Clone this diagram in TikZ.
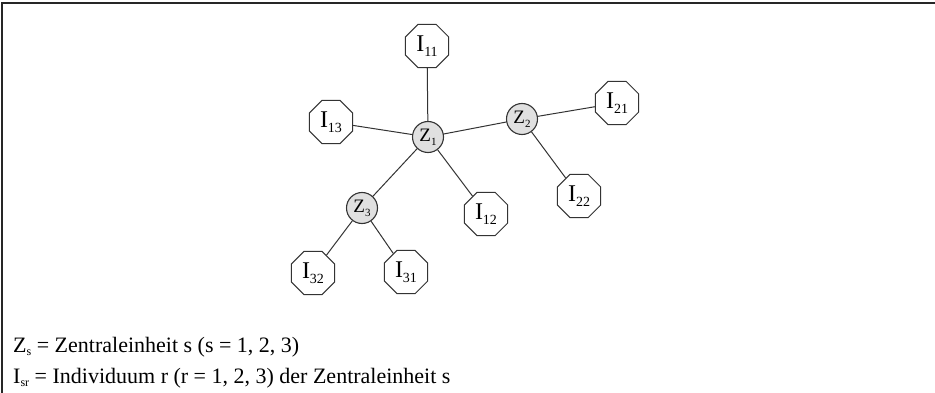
\documentclass[tikz,border=0pt]{standalone}
\usepackage{fontspec}
\setmainfont{Liberation Serif}
\usetikzlibrary{shapes.geometric}
\newcommand\octlab[2]{\fontsize{24}{24}\selectfont #1\raisebox{-5pt}{\fontsize{14}{14}\selectfont #2}}
\newcommand\cirlab[2]{\fontsize{19}{19}\selectfont #1\raisebox{-4pt}{\fontsize{11}{11}\selectfont #2}}
\newcommand\leglab[2]{#1\raisebox{-3pt}{\fontsize{12}{12}\selectfont #2}}
\tikzset{
  oct/.style={draw=black!80, line width=1pt, regular polygon, regular polygon sides=8,
    minimum size=47pt, inner sep=0pt, fill=white},
  zcirc/.style={draw=black!80, line width=1.1pt, circle, fill=black!12,
    minimum size=31pt, inner sep=0pt},
  link/.style={draw=black!80, line width=1pt},
  frame/.style={draw=black!85, line width=1.5pt},
  legend/.style={anchor=base west, inner sep=0pt, font=\fontsize{22}{22}\selectfont}
}
\begin{document}
\begin{tikzpicture}[x=1pt,y=-1pt]
\useasboundingbox (0,0) rectangle (935,393);
\coordinate (fa) at (935,3);
\coordinate (fb) at (2,3);
\coordinate (fc) at (2,393);
\draw[frame] (fa) -- (fb) -- (fc);

\node[zcirc] (Z1) at (428,137) {\cirlab{Z}{1}};
\node[zcirc] (Z2) at (522,119) {\cirlab{Z}{2}};
\node[zcirc] (Z3) at (362,208) {\cirlab{Z}{3}};

\node[oct] (I11) at (427,46) {\octlab{I}{11}};
\node[oct] (I13) at (331,122) {\octlab{I}{13}};
\node[oct] (I12) at (486,214) {\octlab{I}{12}};
\node[oct] (I21) at (617,103) {\octlab{I}{21}};
\node[oct] (I22) at (579,196) {\octlab{I}{22}};
\node[oct] (I32) at (313,273) {\octlab{I}{32}};
\node[oct] (I31) at (406,272) {\octlab{I}{31}};

\path[link] (Z1) -- (I11);
\path[link] (Z1) -- (I13);
\path[link] (Z1) -- (Z2);
\path[link] (Z1) -- (Z3);
\path[link] (Z1) -- (I12);
\path[link] (Z2) -- (I21);
\path[link] (Z2) -- (I22);
\path[link] (Z3) -- (I32);
\path[link] (Z3) -- (I31);

\node[legend] (L1) at (13,352) {\leglab{Z}{s} = Zentraleinheit s (s = 1, 2, 3)};
\node[legend] (L2) at (13,383) {\leglab{I}{sr} = Individuum r (r = 1, 2, 3) der Zentraleinheit s};
\end{tikzpicture}
\end{document}
